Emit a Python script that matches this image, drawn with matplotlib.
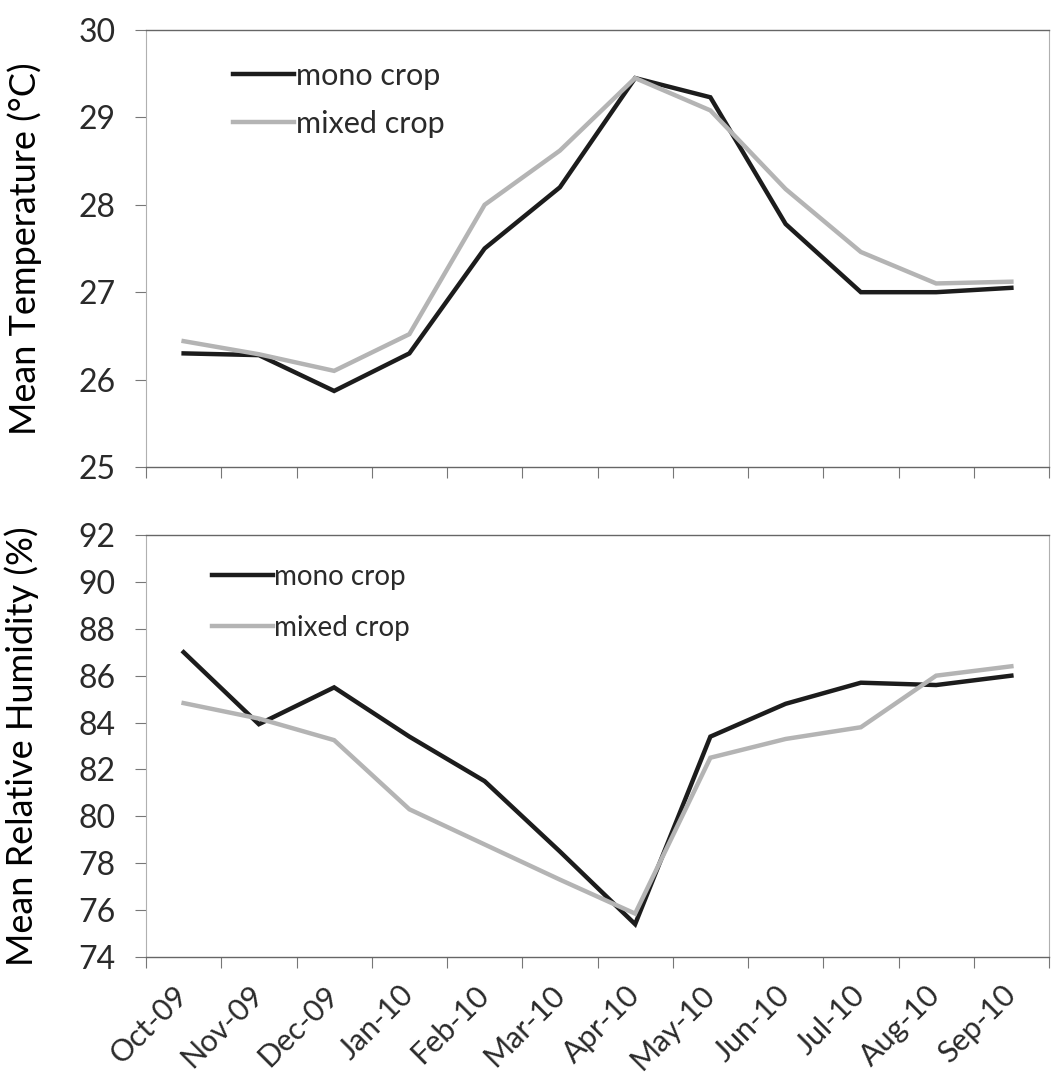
import matplotlib
import matplotlib.pyplot as plt
import numpy as np

matplotlib.use("Agg")

# -----------------------------
# Data
# -----------------------------
months = ["Oct-09", "Nov-09", "Dec-09", "Jan-10", "Feb-10", "Mar-10",
          "Apr-10", "May-10", "Jun-10", "Jul-10", "Aug-10", "Sep-10"]

mono_temp = [26.3, 26.28, 25.87, 26.3, 27.5, 28.2, 29.45, 29.23, 27.78, 27.0, 27.0, 27.05]
mixed_temp = [26.44, 26.29, 26.1, 26.52, 28.0, 28.62, 29.45, 29.08, 28.18, 27.46, 27.1, 27.12]

mono_rh = [87.0, 83.93, 85.5, 83.4, 81.5, 78.5, 75.4, 83.4, 84.8, 85.7, 85.6, 86.0]
mixed_rh = [84.83, 84.17, 83.25, 80.3, 78.8, 77.3, 75.85, 82.5, 83.3, 83.8, 86.0, 86.4]

temp_ticks = [25, 26, 27, 28, 29, 30]
rh_ticks = [74, 76, 78, 80, 82, 84, 86, 88, 90, 92]

MONO_COLOR = "#1c1c1c"
MIXED_COLOR = "#b4b4b4"

plt.rcParams["font.family"] = ["Lato", "DejaVu Sans"]
plt.rcParams["text.color"] = "#2a2a2a"

W, H = 1057, 1081
fig = plt.figure(figsize=(W / 100, H / 100), dpi=100)
fig.patch.set_facecolor("white")


def px_axes(left, top, right, bottom):
    return fig.add_axes([left / W, 1 - bottom / H, (right - left) / W, (bottom - top) / H])


ax_t = px_axes(146, 30, 1049, 467)
ax_b = px_axes(146, 535, 1049, 957)

x = np.arange(len(months))


def style_axis(ax, ticks, show_labels):
    ax.set_xlim(-0.5, len(months) - 0.5)
    ax.set_ylim(ticks[0], ticks[-1])
    ax.set_yticks(ticks)
    ax.tick_params(axis="y", direction="out", length=8, width=0.8,
                   color="#777777", labelsize=23, pad=14, labelcolor="#2a2a2a")
    # category labels at centres, tick marks between categories
    ax.set_xticks(x)
    ax.set_xticks(np.arange(len(months) + 1) - 0.5, minor=True)
    ax.tick_params(axis="x", which="major", length=0, pad=24)
    ax.tick_params(axis="x", which="minor", direction="out", length=8,
                   width=0.8, color="#777777")
    if show_labels:
        ax.set_xticklabels(months, rotation=45, ha="right", va="center",
                           rotation_mode="anchor", fontsize=22, color="#2a2a2a")
    else:
        ax.set_xticklabels([])
    for side in ["left", "right"]:
        ax.spines[side].set_color("#b0b0b0")
        ax.spines[side].set_linewidth(0.8)
    for side in ["top", "bottom"]:
        ax.spines[side].set_color("#666666")
        ax.spines[side].set_linewidth(1.0)


# -----------------------------
# Top: temperature
# -----------------------------
ax_t.plot(x, mono_temp, color=MONO_COLOR, lw=3.2, label="mono crop", solid_joinstyle="miter")
ax_t.plot(x, mixed_temp, color=MIXED_COLOR, lw=3.2, label="mixed crop", solid_joinstyle="miter")
style_axis(ax_t, temp_ticks, show_labels=False)
ax_t.set_ylabel("Mean Temperature (°C)", fontsize=26)
ax_t.yaxis.set_label_coords(-0.115, 0.5)
ax_t.legend(loc="upper left", bbox_to_anchor=(0.066, 0.99), frameon=False,
            fontsize=22, handlelength=2.0, handletextpad=0.05, labelspacing=0.65)

# -----------------------------
# Bottom: relative humidity
# -----------------------------
ax_b.plot(x, mono_rh, color=MONO_COLOR, lw=3.2, label="mono crop", solid_joinstyle="miter")
ax_b.plot(x, mixed_rh, color=MIXED_COLOR, lw=3.2, label="mixed crop", solid_joinstyle="miter")
style_axis(ax_b, rh_ticks, show_labels=True)
ax_b.set_ylabel("Mean Relative Humidity (%)", fontsize=26)
ax_b.yaxis.set_label_coords(-0.118, 0.5)
ax_b.legend(loc="upper left", bbox_to_anchor=(0.045, 0.99), frameon=False,
            fontsize=20, handlelength=2.2, handletextpad=0.05, labelspacing=0.9)

fig.savefig("out.png", dpi=100)
